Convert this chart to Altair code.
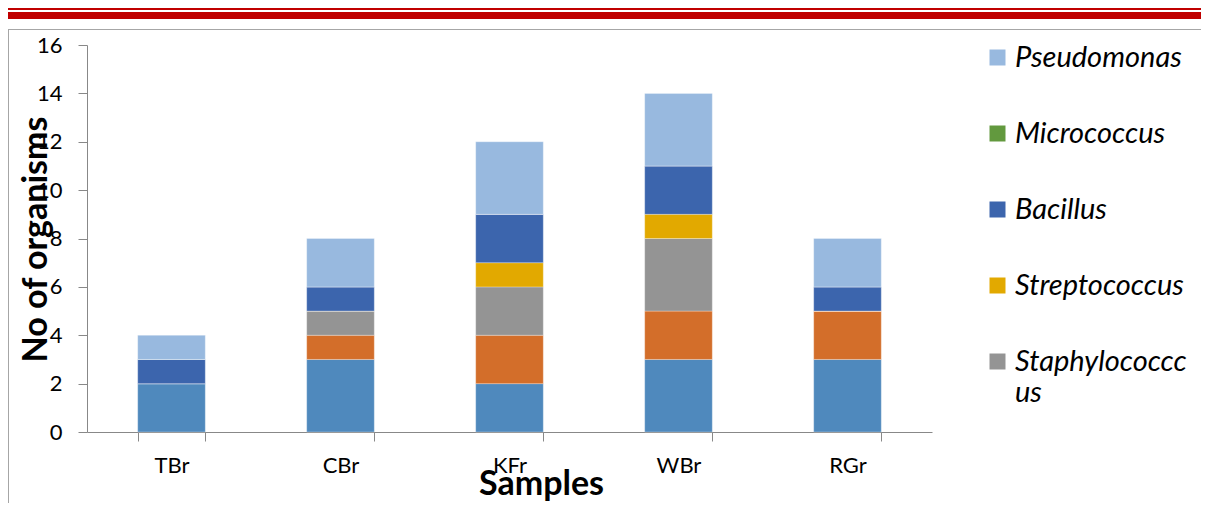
import altair as alt
import pandas as pd

samples = ["TBr", "CBr", "KFr", "WBr", "RGr"]
series = ["Escherichia coli", "Klebsiella", "Staphylococccus", "Streptococcus",
          "Bacillus", "Micrococcus", "Pseudomonas"]
colors = ["#4F89BD", "#D36E2A", "#949494", "#E2A900", "#3C65AD", "#62993E", "#98B9DF"]
values = {
    "Escherichia coli": [2, 3, 2, 3, 3],
    "Klebsiella":       [0, 1, 2, 2, 2],
    "Staphylococccus":  [0, 1, 2, 3, 0],
    "Streptococcus":    [0, 0, 1, 1, 0],
    "Bacillus":         [1, 1, 2, 2, 1],
    "Micrococcus":      [0, 0, 0, 0, 0],
    "Pseudomonas":      [1, 2, 3, 3, 2],
}
legend_entries = ["Pseudomonas", "Micrococcus", "Bacillus", "Streptococcus", "Staphylococccus"]

rows = []
for si, s in enumerate(series):
    for j, smp in enumerate(samples):
        rows.append({"Sample": smp, "Organism": s, "Count": values[s][j], "ord": si})
df = pd.DataFrame(rows)

FONT = "Lato"

bars = alt.Chart(df).mark_bar(stroke="white", strokeWidth=0.6, strokeOpacity=0.5).encode(
    x=alt.X("Sample:N", sort=samples,
            scale=alt.Scale(paddingInner=0.6, paddingOuter=0.3),
            axis=alt.Axis(title="Samples", labelAngle=0, labelFont=FONT, labelFontSize=22,
                          labelColor="#000", labelPadding=14, tickSize=9, tickBand="extent",
                          tickColor="#888", domainColor="#888",
                          titleFont=FONT, titleFontSize=34, titleFontWeight="bold",
                          titleColor="#000", titleX=454, titleY=52, titleBaseline="middle")),
    y=alt.Y("Count:Q", stack="zero",
            scale=alt.Scale(domain=[0, 16], nice=False),
            axis=alt.Axis(title="No of organisms", values=list(range(0, 17, 2)), grid=False,
                          labelFont=FONT, labelFontSize=22, labelColor="#000",
                          labelPadding=16, tickSize=9, tickColor="#888", domainColor="#888",
                          titleFont=FONT, titleFontSize=34, titleFontWeight="bold",
                          titleColor="#000", titleX=-51, titleY=194, titleAngle=-90,
                          titleBaseline="middle", titleAlign="center")),
    color=alt.Color("Organism:N", scale=alt.Scale(domain=series, range=colors),
                    legend=alt.Legend(title=None, values=legend_entries, orient="none",
                                      legendX=896, legendY=-2, symbolType="square",
                                      symbolSize=256, symbolStrokeWidth=0,
                                      labelFont=FONT, labelFontSize=29, labelFontStyle="italic",
                                      labelColor="#000", labelLimit=400, labelOffset=3,
                                      rowPadding=46,
                                      labelExpr="datum.label == 'Staphylococccus' ? ['Staphylococcc', 'us'] : datum.label")),
    order=alt.Order("ord:Q", sort="ascending"),
)

deco = pd.DataFrame({"k": [0]})
red_thin = alt.Chart(deco).mark_rule(color="#C00000", strokeWidth=2).encode(
    x=alt.value(-79), x2=alt.value(1114), y=alt.value(-36))
red_thick = alt.Chart(deco).mark_rule(color="#C00000", strokeWidth=7).encode(
    x=alt.value(-79), x2=alt.value(1114), y=alt.value(-29.5))
frame_top = alt.Chart(deco).mark_rule(color="#A6A6A6", strokeWidth=1).encode(
    x=alt.value(-79), x2=alt.value(1114), y=alt.value(-15.5))
frame_left = alt.Chart(deco).mark_rule(color="#A6A6A6", strokeWidth=1).encode(
    x=alt.value(-78.5), y=alt.value(-15.5), y2=alt.value(458))

chart = alt.layer(bars, red_thin, red_thick, frame_top, frame_left).properties(
    width=845, height=387,
    autosize=alt.AutoSizeParams(type="none"),
    padding={"left": 79, "top": 37, "right": 269, "bottom": 71},
).configure(background="white").configure_view(stroke="transparent", strokeWidth=0)

chart.save("out.html", embed_options={"renderer": "svg", "actions": False})
